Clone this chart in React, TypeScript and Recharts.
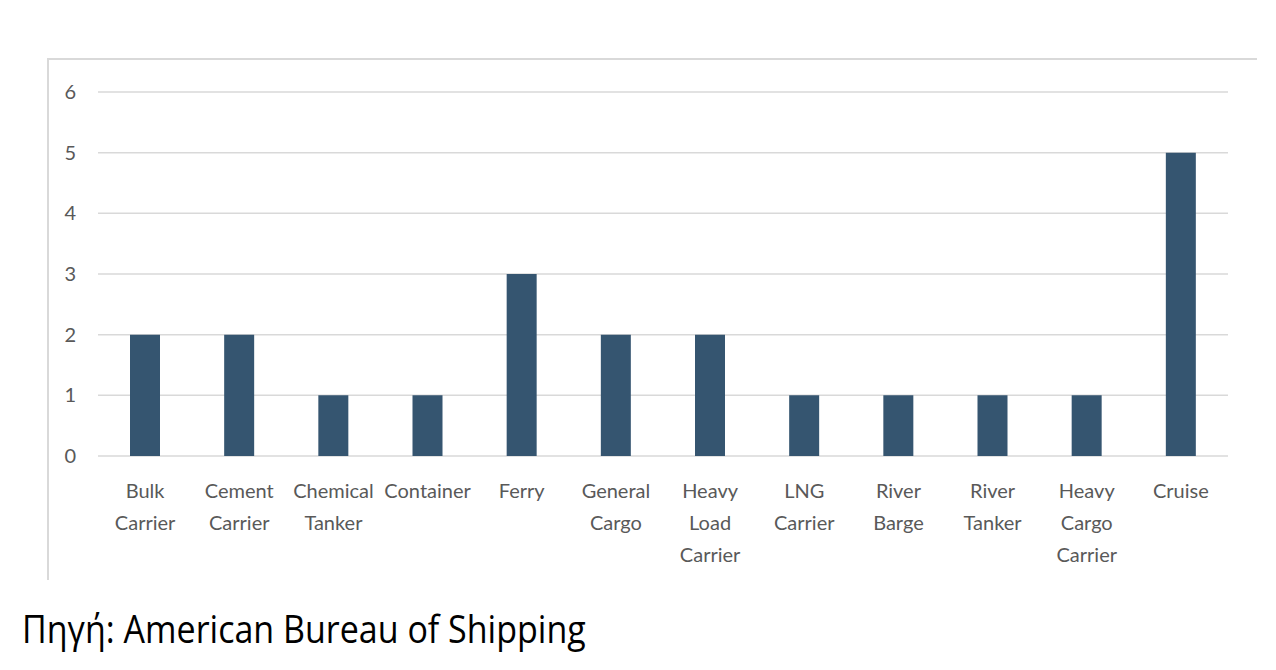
import { BarChart, Bar, XAxis, YAxis, CartesianGrid } from 'recharts';

const categories = [
  'Bulk Carrier',
  'Cement Carrier',
  'Chemical Tanker',
  'Container',
  'Ferry',
  'General Cargo',
  'Heavy Load Carrier',
  'LNG Carrier',
  'River Barge',
  'River Tanker',
  'Heavy Cargo Carrier',
  'Cruise',
];

const tickLines: string[][] = [
  ['Bulk', 'Carrier'],
  ['Cement', 'Carrier'],
  ['Chemical', 'Tanker'],
  ['Container'],
  ['Ferry'],
  ['General', 'Cargo'],
  ['Heavy', 'Load', 'Carrier'],
  ['LNG', 'Carrier'],
  ['River', 'Barge'],
  ['River', 'Tanker'],
  ['Heavy', 'Cargo', 'Carrier'],
  ['Cruise'],
];

const values = [2, 2, 1, 1, 3, 2, 2, 1, 1, 1, 1, 5];

const yTicks = [0, 1, 2, 3, 4, 5, 6];

const data = categories.map((name, i) => ({ name, value: values[i] }));

const FONT = 'Lato, "Open Sans", sans-serif';

function XTick(props: any) {
  const { x, y, index } = props;
  const lines = tickLines[index] || [];
  return (
    <g transform={`translate(${x},${y})`}>
      {lines.map((l, i) => (
        <text
          key={i}
          x={0}
          y={34 + i * 32}
          textAnchor="middle"
          fill="#595959"
          fontSize={20}
          fontFamily={FONT}
        >
          {l}
        </text>
      ))}
    </g>
  );
}

export default function App() {
  return (
    <div style={{ position: 'relative', width: 1276, height: 670, margin: -8, background: '#fff' }}>
      <div
        style={{
          position: 'absolute',
          left: 47,
          top: 58,
          width: 1210,
          height: 522,
          borderTop: '2px solid #d9d9d9',
          borderLeft: '2px solid #d9d9d9',
          boxSizing: 'border-box',
        }}
      />
      <div style={{ position: 'absolute', left: 0, top: 0 }}>
        <BarChart
          width={1276}
          height={580}
          data={data}
          margin={{ top: 92, right: 48, left: 58, bottom: 0 }}
          barCategoryGap={0}
        >
          <CartesianGrid vertical={false} stroke="#d9d9d9" strokeWidth={1.5} />
          <XAxis
            dataKey="name"
            axisLine={false}
            tickLine={false}
            interval={0}
            height={124}
            tick={<XTick />}
          />
          <YAxis
            domain={[0, 6]}
            ticks={yTicks}
            width={40}
            axisLine={false}
            tickLine={false}
            tickMargin={16}
            tick={{ fill: '#595959', fontSize: 20, fontFamily: FONT }}
          />
          <Bar dataKey="value" fill="#355570" barSize={30} isAnimationActive={false} />
        </BarChart>
      </div>
      <div
        style={{
          position: 'absolute',
          left: 22,
          top: 608,
          fontFamily: '"Open Sans", sans-serif',
          fontSize: 34,
          lineHeight: '34px',
          color: '#000',
          whiteSpace: 'nowrap',
          transform: 'scale(1.0, 1.15)',
          transformOrigin: 'left top',
        }}
      >
        Πηγή: American Bureau of Shipping
      </div>
    </div>
  );
}
